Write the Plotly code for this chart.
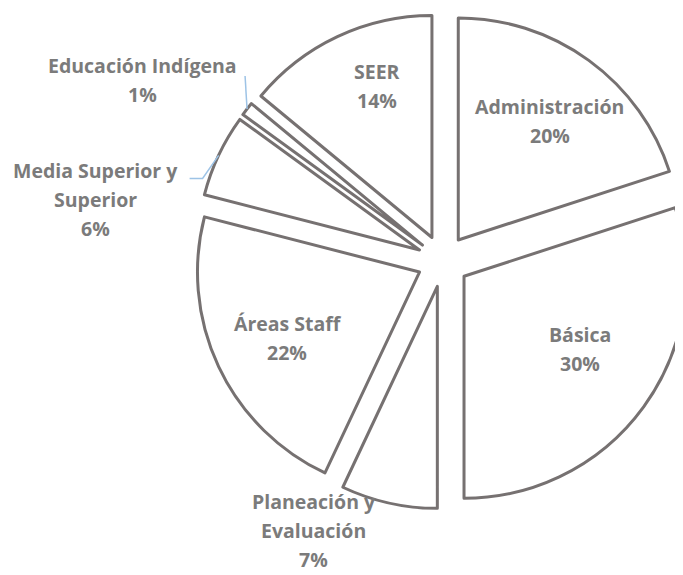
import math
import plotly.graph_objects as go

# datos (porcentaje del total), en sentido horario desde las 12
areas = ["Administración", "Básica", "Planeación y Evaluación", "Áreas Staff",
         "Media Superior y Superior", "Educación Indígena", "SEER"]
porcentajes = [20, 30, 7, 22, 6, 1, 14]
# cómo se parte cada nombre en renglones dentro de la etiqueta
renglones = {
    "Administración": ["Administración"],
    "Básica": ["Básica"],
    "Planeación y Evaluación": ["Planeación y", "Evaluación"],
    "Áreas Staff": ["Áreas Staff"],
    "Media Superior y Superior": ["Media Superior y", "Superior"],
    "Educación Indígena": ["Educación Indígena"],
    "SEER": ["SEER"],
}
fuera = ["Planeación y Evaluación", "Media Superior y Superior", "Educación Indígena"]

W, H = 683, 575
PULL = 0.117
DOM_X = [0.2738, 1.0]
DOM_Y = [0.1287, 0.9913]
FRAC_DENTRO = 0.78
INTERLINEA = 29

GRIS_LINEA = "#767171"
GRIS_TEXTO = "#7b7b7b"
AZUL_GUIA = "#9dc3e6"
FUENTE = dict(family="Open Sans", size=19.5, color=GRIS_TEXTO, weight="bold")

fig = go.Figure()
fig.add_trace(
    go.Pie(labels=areas,
           values=porcentajes,
           sort=False,
           direction="clockwise",
           rotation=0,
           pull=[PULL] * len(areas),
           marker=dict(colors=["white"] * len(areas),
                       line=dict(color=GRIS_LINEA, width=3)),
           textinfo="none",
           automargin=False,
           showlegend=False,
           hoverinfo="label+percent",
           domain=dict(x=DOM_X, y=DOM_Y)))

# geometría del pastel (misma regla que usa plotly para el radio)
cx = W * (DOM_X[0] + DOM_X[1]) / 2
cy = H * (1 - (DOM_Y[0] + DOM_Y[1]) / 2)
R = min(W * (DOM_X[1] - DOM_X[0]), H * (DOM_Y[1] - DOM_Y[0])) / 2 / (1 + PULL)
total = sum(porcentajes)


def punto(nombre, k):
    i = areas.index(nombre)
    antes = sum(porcentajes[:i])
    ang = 2 * math.pi * (antes + porcentajes[i] / 2) / total
    return cx + k * R * math.sin(ang), cy - k * R * math.cos(ang)


def papel(x, y):
    return x / W, 1 - y / H


# desplazamientos (px) de cada etiqueta y línea guía de las externas
ajustes = {
    "SEER": dict(texto=(8, -18)),
    "Administración": dict(texto=(5, 0)),
    "Básica": dict(texto=(-3, -14)),
    "Áreas Staff": dict(texto=(1, 3)),
    "Planeación y Evaluación": dict(texto=(-75, 27)),
    "Media Superior y Superior": dict(texto=(-123, 44), guia=[(-16, 23), (-29, 23)]),
    "Educación Indígena": dict(texto=(-105, -29), guia=[(-2, -33)]),
}

for nombre, valor in zip(areas, porcentajes):
    k = 1 + PULL if nombre in fuera else FRAC_DENTRO
    px, py = punto(nombre, k)
    aj = ajustes[nombre]
    lineas = renglones[nombre] + ["%d%%" % round(100 * valor / total)]
    xc, yc = px + aj["texto"][0], py + aj["texto"][1]
    n = len(lineas)
    for j, linea in enumerate(lineas):
        tx, ty = papel(xc, yc + (j - (n - 1) / 2) * INTERLINEA)
        fig.add_annotation(x=tx, y=ty, xref="paper", yref="paper", text=linea,
                           showarrow=False, font=FUENTE, xanchor="center",
                           yanchor="middle", borderpad=0)
    if aj.get("guia"):
        pts = [(px, py)] + [(px + dx, py + dy) for dx, dy in aj["guia"]]
        ruta = "M " + " L ".join("%.4f,%.4f" % papel(x, y) for x, y in pts)
        fig.add_shape(type="path", path=ruta, xref="paper", yref="paper",
                      line=dict(color=AZUL_GUIA, width=1.5))

fig.update_layout(width=W,
                  height=H,
                  margin=dict(l=0, r=0, t=0, b=0),
                  paper_bgcolor="white",
                  plot_bgcolor="white")

fig.write_html("out.html")
